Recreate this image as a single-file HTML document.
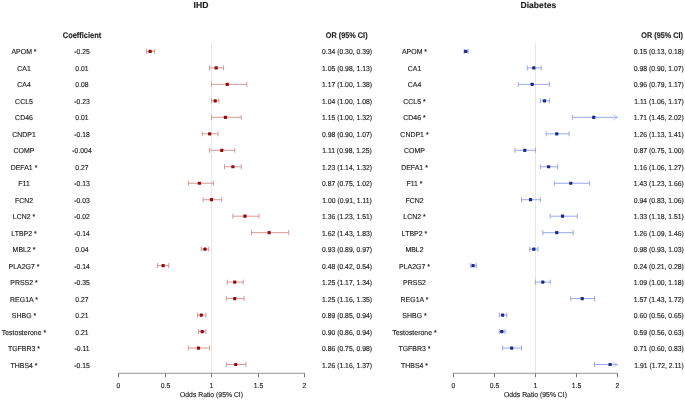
<!DOCTYPE html><html><head><meta charset="utf-8"><style>html,body{margin:0;padding:0;background:#fff;width:685px;height:400px;overflow:hidden}svg{display:block;filter:grayscale(0)}text{font-family:"Liberation Sans",sans-serif;fill:#222222;stroke:#222222;stroke-width:0.14px}</style></head><body>
<svg width="685" height="400" viewBox="0 0 685 400">
<rect width="685" height="400" fill="#fff"/>
<text transform="translate(201.00,8.40) scale(1.0,1) skewX(0.3)" font-size="8.6" font-weight="bold" text-anchor="middle">IHD</text>
<text transform="translate(538.40,8.40) scale(1.0,1) skewX(0.3)" font-size="8.6" font-weight="bold" text-anchor="middle">Diabetes</text>
<text transform="translate(82.00,38.10) scale(0.91,1) skewX(0.3)" font-size="8.2" font-weight="bold" text-anchor="middle">Coefficient</text>
<text transform="translate(346.70,38.10) scale(0.89,1) skewX(0.3)" font-size="8.2" font-weight="bold" text-anchor="middle">OR (95% CI)</text>
<text transform="translate(683.00,38.10) scale(0.89,1) skewX(0.3)" font-size="8.2" font-weight="bold" text-anchor="end">OR (95% CI)</text>
<line x1="211.50" y1="42.8" x2="211.50" y2="373.4" stroke="#e6e6e6" stroke-width="1"/>
<line x1="118.00" y1="373.4" x2="305.00" y2="373.4" stroke="#ababab" stroke-width="1.4"/>
<line x1="118.50" y1="373.4" x2="118.50" y2="377.30" stroke="#777777" stroke-width="1"/>
<text transform="translate(118.50,388.30) scale(0.95,1) skewX(0.3)" font-size="7.2" text-anchor="middle">0</text>
<line x1="165.50" y1="373.4" x2="165.50" y2="377.30" stroke="#777777" stroke-width="1"/>
<text transform="translate(165.50,388.30) scale(0.95,1) skewX(0.3)" font-size="7.2" text-anchor="middle">0.5</text>
<line x1="211.50" y1="373.4" x2="211.50" y2="377.30" stroke="#777777" stroke-width="1"/>
<text transform="translate(211.50,388.30) scale(0.95,1) skewX(0.3)" font-size="7.2" text-anchor="middle">1</text>
<line x1="258.50" y1="373.4" x2="258.50" y2="377.30" stroke="#777777" stroke-width="1"/>
<text transform="translate(258.50,388.30) scale(0.95,1) skewX(0.3)" font-size="7.2" text-anchor="middle">1.5</text>
<line x1="304.50" y1="373.4" x2="304.50" y2="377.30" stroke="#777777" stroke-width="1"/>
<text transform="translate(304.50,388.30) scale(0.95,1) skewX(0.3)" font-size="7.2" text-anchor="middle">2</text>
<text transform="translate(211.50,396.80) scale(0.95,1) skewX(0.3)" font-size="7.2" text-anchor="middle">Odds Ratio (95% CI)</text>
<line x1="535.45" y1="42.8" x2="535.45" y2="373.4" stroke="#e6e6e6" stroke-width="1"/>
<line x1="453.00" y1="373.4" x2="618.00" y2="373.4" stroke="#ababab" stroke-width="1.4"/>
<line x1="453.50" y1="373.4" x2="453.50" y2="377.30" stroke="#777777" stroke-width="1"/>
<text transform="translate(453.50,388.30) scale(0.95,1) skewX(0.3)" font-size="7.2" text-anchor="middle">0</text>
<line x1="494.50" y1="373.4" x2="494.50" y2="377.30" stroke="#777777" stroke-width="1"/>
<text transform="translate(494.50,388.30) scale(0.95,1) skewX(0.3)" font-size="7.2" text-anchor="middle">0.5</text>
<line x1="535.50" y1="373.4" x2="535.50" y2="377.30" stroke="#777777" stroke-width="1"/>
<text transform="translate(535.50,388.30) scale(0.95,1) skewX(0.3)" font-size="7.2" text-anchor="middle">1</text>
<line x1="576.50" y1="373.4" x2="576.50" y2="377.30" stroke="#777777" stroke-width="1"/>
<text transform="translate(576.50,388.30) scale(0.95,1) skewX(0.3)" font-size="7.2" text-anchor="middle">1.5</text>
<line x1="617.50" y1="373.4" x2="617.50" y2="377.30" stroke="#777777" stroke-width="1"/>
<text transform="translate(617.50,388.30) scale(0.95,1) skewX(0.3)" font-size="7.2" text-anchor="middle">2</text>
<text transform="translate(535.45,396.80) scale(0.95,1) skewX(0.3)" font-size="7.2" text-anchor="middle">Odds Ratio (95% CI)</text>
<text transform="translate(24.00,54.42) scale(0.969,1) skewX(0.3)" font-size="7.2" text-anchor="middle">APOM *</text>
<text transform="translate(82.00,54.42) scale(0.95,1) skewX(0.3)" font-size="7.2" text-anchor="middle">-0.25</text>
<text transform="translate(347.00,54.42) scale(0.95,1) skewX(0.3)" font-size="7.2" text-anchor="middle">0.34 (0.30, 0.39)</text>
<text transform="translate(414.50,54.42) scale(0.969,1) skewX(0.3)" font-size="7.2" text-anchor="middle">APOM *</text>
<text transform="translate(683.90,54.42) scale(0.95,1) skewX(0.3)" font-size="7.2" text-anchor="end">0.15 (0.13, 0.18)</text>
<line x1="146.40" y1="51.40" x2="154.77" y2="51.40" stroke="#d69898" stroke-width="1.0"/>
<line x1="146.40" y1="48.90" x2="146.40" y2="53.90" stroke="#d69898" stroke-width="1.0"/>
<line x1="154.77" y1="48.90" x2="154.77" y2="53.90" stroke="#d69898" stroke-width="1.0"/>
<rect x="148.52" y="49.80" width="3.2" height="3.2" rx="0.6" fill="#960a0a"/>
<line x1="464.07" y1="51.40" x2="468.17" y2="51.40" stroke="#98a9ee" stroke-width="1.0"/>
<line x1="464.07" y1="48.90" x2="464.07" y2="53.90" stroke="#98a9ee" stroke-width="1.0"/>
<line x1="468.17" y1="48.90" x2="468.17" y2="53.90" stroke="#98a9ee" stroke-width="1.0"/>
<rect x="464.11" y="49.80" width="3.2" height="3.2" rx="0.6" fill="#1c2a8a"/>
<text transform="translate(24.00,70.90) scale(0.969,1) skewX(0.3)" font-size="7.2" text-anchor="middle">CA1</text>
<text transform="translate(82.00,70.90) scale(0.95,1) skewX(0.3)" font-size="7.2" text-anchor="middle">0.01</text>
<text transform="translate(347.00,70.90) scale(0.95,1) skewX(0.3)" font-size="7.2" text-anchor="middle">1.05 (0.98, 1.13)</text>
<text transform="translate(414.50,70.90) scale(0.969,1) skewX(0.3)" font-size="7.2" text-anchor="middle">CA1</text>
<text transform="translate(683.90,70.90) scale(0.95,1) skewX(0.3)" font-size="7.2" text-anchor="end">0.98 (0.90, 1.07)</text>
<line x1="209.64" y1="67.88" x2="223.59" y2="67.88" stroke="#d69898" stroke-width="1.0"/>
<line x1="209.64" y1="65.38" x2="209.64" y2="70.38" stroke="#d69898" stroke-width="1.0"/>
<line x1="223.59" y1="65.38" x2="223.59" y2="70.38" stroke="#d69898" stroke-width="1.0"/>
<rect x="214.55" y="66.28" width="3.2" height="3.2" rx="0.6" fill="#960a0a"/>
<line x1="527.25" y1="67.88" x2="541.19" y2="67.88" stroke="#98a9ee" stroke-width="1.0"/>
<line x1="527.25" y1="65.38" x2="527.25" y2="70.38" stroke="#98a9ee" stroke-width="1.0"/>
<line x1="541.19" y1="65.38" x2="541.19" y2="70.38" stroke="#98a9ee" stroke-width="1.0"/>
<rect x="532.21" y="66.28" width="3.2" height="3.2" rx="0.6" fill="#1c2a8a"/>
<text transform="translate(24.00,87.38) scale(0.969,1) skewX(0.3)" font-size="7.2" text-anchor="middle">CA4</text>
<text transform="translate(82.00,87.38) scale(0.95,1) skewX(0.3)" font-size="7.2" text-anchor="middle">0.08</text>
<text transform="translate(347.00,87.38) scale(0.95,1) skewX(0.3)" font-size="7.2" text-anchor="middle">1.17 (1.00, 1.38)</text>
<text transform="translate(414.50,87.38) scale(0.969,1) skewX(0.3)" font-size="7.2" text-anchor="middle">CA4</text>
<text transform="translate(683.90,87.38) scale(0.95,1) skewX(0.3)" font-size="7.2" text-anchor="end">0.96 (0.79, 1.17)</text>
<line x1="211.50" y1="84.36" x2="246.84" y2="84.36" stroke="#d69898" stroke-width="1.0"/>
<line x1="211.50" y1="81.86" x2="211.50" y2="86.86" stroke="#d69898" stroke-width="1.0"/>
<line x1="246.84" y1="81.86" x2="246.84" y2="86.86" stroke="#d69898" stroke-width="1.0"/>
<rect x="225.71" y="82.76" width="3.2" height="3.2" rx="0.6" fill="#960a0a"/>
<line x1="518.22" y1="84.36" x2="549.40" y2="84.36" stroke="#98a9ee" stroke-width="1.0"/>
<line x1="518.22" y1="81.86" x2="518.22" y2="86.86" stroke="#98a9ee" stroke-width="1.0"/>
<line x1="549.40" y1="81.86" x2="549.40" y2="86.86" stroke="#98a9ee" stroke-width="1.0"/>
<rect x="530.57" y="82.76" width="3.2" height="3.2" rx="0.6" fill="#1c2a8a"/>
<text transform="translate(24.00,103.86) scale(0.969,1) skewX(0.3)" font-size="7.2" text-anchor="middle">CCL5</text>
<text transform="translate(82.00,103.86) scale(0.95,1) skewX(0.3)" font-size="7.2" text-anchor="middle">-0.23</text>
<text transform="translate(347.00,103.86) scale(0.95,1) skewX(0.3)" font-size="7.2" text-anchor="middle">1.04 (1.00, 1.08)</text>
<text transform="translate(414.50,103.86) scale(0.969,1) skewX(0.3)" font-size="7.2" text-anchor="middle">CCL5 *</text>
<text transform="translate(683.90,103.86) scale(0.95,1) skewX(0.3)" font-size="7.2" text-anchor="end">1.11 (1.06, 1.17)</text>
<line x1="211.50" y1="100.84" x2="218.94" y2="100.84" stroke="#d69898" stroke-width="1.0"/>
<line x1="211.50" y1="98.34" x2="211.50" y2="103.34" stroke="#d69898" stroke-width="1.0"/>
<line x1="218.94" y1="98.34" x2="218.94" y2="103.34" stroke="#d69898" stroke-width="1.0"/>
<rect x="213.62" y="99.24" width="3.2" height="3.2" rx="0.6" fill="#960a0a"/>
<line x1="540.37" y1="100.84" x2="549.40" y2="100.84" stroke="#98a9ee" stroke-width="1.0"/>
<line x1="540.37" y1="98.34" x2="540.37" y2="103.34" stroke="#98a9ee" stroke-width="1.0"/>
<line x1="549.40" y1="98.34" x2="549.40" y2="103.34" stroke="#98a9ee" stroke-width="1.0"/>
<rect x="542.88" y="99.24" width="3.2" height="3.2" rx="0.6" fill="#1c2a8a"/>
<text transform="translate(24.00,120.34) scale(0.969,1) skewX(0.3)" font-size="7.2" text-anchor="middle">CD46</text>
<text transform="translate(82.00,120.34) scale(0.95,1) skewX(0.3)" font-size="7.2" text-anchor="middle">0.01</text>
<text transform="translate(347.00,120.34) scale(0.95,1) skewX(0.3)" font-size="7.2" text-anchor="middle">1.15 (1.00, 1.32)</text>
<text transform="translate(414.50,120.34) scale(0.969,1) skewX(0.3)" font-size="7.2" text-anchor="middle">CD46 *</text>
<text transform="translate(683.90,120.34) scale(0.95,1) skewX(0.3)" font-size="7.2" text-anchor="end">1.71 (1.45, 2.02)</text>
<line x1="211.50" y1="117.32" x2="241.26" y2="117.32" stroke="#d69898" stroke-width="1.0"/>
<line x1="211.50" y1="114.82" x2="211.50" y2="119.82" stroke="#d69898" stroke-width="1.0"/>
<line x1="241.26" y1="114.82" x2="241.26" y2="119.82" stroke="#d69898" stroke-width="1.0"/>
<rect x="223.85" y="115.72" width="3.2" height="3.2" rx="0.6" fill="#960a0a"/>
<line x1="572.37" y1="117.32" x2="617.50" y2="117.32" stroke="#98a9ee" stroke-width="1.0"/>
<line x1="572.37" y1="114.82" x2="572.37" y2="119.82" stroke="#98a9ee" stroke-width="1.0"/>
<polyline points="612.50,114.42 617.50,117.32 612.50,120.22" fill="none" stroke="#98a9ee" stroke-width="0.6"/>
<rect x="592.11" y="115.72" width="3.2" height="3.2" rx="0.6" fill="#1c2a8a"/>
<text transform="translate(24.00,136.82) scale(0.969,1) skewX(0.3)" font-size="7.2" text-anchor="middle">CNDP1</text>
<text transform="translate(82.00,136.82) scale(0.95,1) skewX(0.3)" font-size="7.2" text-anchor="middle">-0.18</text>
<text transform="translate(347.00,136.82) scale(0.95,1) skewX(0.3)" font-size="7.2" text-anchor="middle">0.98 (0.90, 1.07)</text>
<text transform="translate(414.50,136.82) scale(0.969,1) skewX(0.3)" font-size="7.2" text-anchor="middle">CNDP1 *</text>
<text transform="translate(683.90,136.82) scale(0.95,1) skewX(0.3)" font-size="7.2" text-anchor="end">1.26 (1.13, 1.41)</text>
<line x1="202.20" y1="133.80" x2="218.01" y2="133.80" stroke="#d69898" stroke-width="1.0"/>
<line x1="202.20" y1="131.30" x2="202.20" y2="136.30" stroke="#d69898" stroke-width="1.0"/>
<line x1="218.01" y1="131.30" x2="218.01" y2="136.30" stroke="#d69898" stroke-width="1.0"/>
<rect x="208.04" y="132.20" width="3.2" height="3.2" rx="0.6" fill="#960a0a"/>
<line x1="546.12" y1="133.80" x2="569.09" y2="133.80" stroke="#98a9ee" stroke-width="1.0"/>
<line x1="546.12" y1="131.30" x2="546.12" y2="136.30" stroke="#98a9ee" stroke-width="1.0"/>
<line x1="569.09" y1="131.30" x2="569.09" y2="136.30" stroke="#98a9ee" stroke-width="1.0"/>
<rect x="555.18" y="132.20" width="3.2" height="3.2" rx="0.6" fill="#1c2a8a"/>
<text transform="translate(24.00,153.30) scale(0.969,1) skewX(0.3)" font-size="7.2" text-anchor="middle">COMP</text>
<text transform="translate(82.00,153.30) scale(0.95,1) skewX(0.3)" font-size="7.2" text-anchor="middle">-0.004</text>
<text transform="translate(347.00,153.30) scale(0.95,1) skewX(0.3)" font-size="7.2" text-anchor="middle">1.11 (0.98, 1.25)</text>
<text transform="translate(414.50,153.30) scale(0.969,1) skewX(0.3)" font-size="7.2" text-anchor="middle">COMP</text>
<text transform="translate(683.90,153.30) scale(0.95,1) skewX(0.3)" font-size="7.2" text-anchor="end">0.87 (0.75, 1.00)</text>
<line x1="209.64" y1="150.28" x2="234.75" y2="150.28" stroke="#d69898" stroke-width="1.0"/>
<line x1="209.64" y1="147.78" x2="209.64" y2="152.78" stroke="#d69898" stroke-width="1.0"/>
<line x1="234.75" y1="147.78" x2="234.75" y2="152.78" stroke="#d69898" stroke-width="1.0"/>
<rect x="220.13" y="148.68" width="3.2" height="3.2" rx="0.6" fill="#960a0a"/>
<line x1="514.94" y1="150.28" x2="535.45" y2="150.28" stroke="#98a9ee" stroke-width="1.0"/>
<line x1="514.94" y1="147.78" x2="514.94" y2="152.78" stroke="#98a9ee" stroke-width="1.0"/>
<line x1="535.45" y1="147.78" x2="535.45" y2="152.78" stroke="#98a9ee" stroke-width="1.0"/>
<rect x="523.18" y="148.68" width="3.2" height="3.2" rx="0.6" fill="#1c2a8a"/>
<text transform="translate(24.00,169.78) scale(0.969,1) skewX(0.3)" font-size="7.2" text-anchor="middle">DEFA1 *</text>
<text transform="translate(82.00,169.78) scale(0.95,1) skewX(0.3)" font-size="7.2" text-anchor="middle">0.27</text>
<text transform="translate(347.00,169.78) scale(0.95,1) skewX(0.3)" font-size="7.2" text-anchor="middle">1.23 (1.14, 1.32)</text>
<text transform="translate(414.50,169.78) scale(0.969,1) skewX(0.3)" font-size="7.2" text-anchor="middle">DEFA1 *</text>
<text transform="translate(683.90,169.78) scale(0.95,1) skewX(0.3)" font-size="7.2" text-anchor="end">1.16 (1.06, 1.27)</text>
<line x1="224.52" y1="166.76" x2="241.26" y2="166.76" stroke="#d69898" stroke-width="1.0"/>
<line x1="224.52" y1="164.26" x2="224.52" y2="169.26" stroke="#d69898" stroke-width="1.0"/>
<line x1="241.26" y1="164.26" x2="241.26" y2="169.26" stroke="#d69898" stroke-width="1.0"/>
<rect x="231.29" y="165.16" width="3.2" height="3.2" rx="0.6" fill="#960a0a"/>
<line x1="540.37" y1="166.76" x2="557.60" y2="166.76" stroke="#98a9ee" stroke-width="1.0"/>
<line x1="540.37" y1="164.26" x2="540.37" y2="169.26" stroke="#98a9ee" stroke-width="1.0"/>
<line x1="557.60" y1="164.26" x2="557.60" y2="169.26" stroke="#98a9ee" stroke-width="1.0"/>
<rect x="546.98" y="165.16" width="3.2" height="3.2" rx="0.6" fill="#1c2a8a"/>
<text transform="translate(24.00,186.26) scale(0.969,1) skewX(0.3)" font-size="7.2" text-anchor="middle">F11</text>
<text transform="translate(82.00,186.26) scale(0.95,1) skewX(0.3)" font-size="7.2" text-anchor="middle">-0.13</text>
<text transform="translate(347.00,186.26) scale(0.95,1) skewX(0.3)" font-size="7.2" text-anchor="middle">0.87 (0.75, 1.02)</text>
<text transform="translate(414.50,186.26) scale(0.969,1) skewX(0.3)" font-size="7.2" text-anchor="middle">F11 *</text>
<text transform="translate(683.90,186.26) scale(0.95,1) skewX(0.3)" font-size="7.2" text-anchor="end">1.43 (1.23, 1.66)</text>
<line x1="188.25" y1="183.24" x2="213.36" y2="183.24" stroke="#d69898" stroke-width="1.0"/>
<line x1="188.25" y1="180.74" x2="188.25" y2="185.74" stroke="#d69898" stroke-width="1.0"/>
<line x1="213.36" y1="180.74" x2="213.36" y2="185.74" stroke="#d69898" stroke-width="1.0"/>
<rect x="197.81" y="181.64" width="3.2" height="3.2" rx="0.6" fill="#960a0a"/>
<line x1="554.32" y1="183.24" x2="589.60" y2="183.24" stroke="#98a9ee" stroke-width="1.0"/>
<line x1="554.32" y1="180.74" x2="554.32" y2="185.74" stroke="#98a9ee" stroke-width="1.0"/>
<line x1="589.60" y1="180.74" x2="589.60" y2="185.74" stroke="#98a9ee" stroke-width="1.0"/>
<rect x="569.13" y="181.64" width="3.2" height="3.2" rx="0.6" fill="#1c2a8a"/>
<text transform="translate(24.00,202.74) scale(0.969,1) skewX(0.3)" font-size="7.2" text-anchor="middle">FCN2</text>
<text transform="translate(82.00,202.74) scale(0.95,1) skewX(0.3)" font-size="7.2" text-anchor="middle">-0.03</text>
<text transform="translate(347.00,202.74) scale(0.95,1) skewX(0.3)" font-size="7.2" text-anchor="middle">1.00 (0.91, 1.11)</text>
<text transform="translate(414.50,202.74) scale(0.969,1) skewX(0.3)" font-size="7.2" text-anchor="middle">FCN2</text>
<text transform="translate(683.90,202.74) scale(0.95,1) skewX(0.3)" font-size="7.2" text-anchor="end">0.94 (0.83, 1.06)</text>
<line x1="203.13" y1="199.72" x2="221.73" y2="199.72" stroke="#d69898" stroke-width="1.0"/>
<line x1="203.13" y1="197.22" x2="203.13" y2="202.22" stroke="#d69898" stroke-width="1.0"/>
<line x1="221.73" y1="197.22" x2="221.73" y2="202.22" stroke="#d69898" stroke-width="1.0"/>
<rect x="209.90" y="198.12" width="3.2" height="3.2" rx="0.6" fill="#960a0a"/>
<line x1="521.50" y1="199.72" x2="540.37" y2="199.72" stroke="#98a9ee" stroke-width="1.0"/>
<line x1="521.50" y1="197.22" x2="521.50" y2="202.22" stroke="#98a9ee" stroke-width="1.0"/>
<line x1="540.37" y1="197.22" x2="540.37" y2="202.22" stroke="#98a9ee" stroke-width="1.0"/>
<rect x="528.93" y="198.12" width="3.2" height="3.2" rx="0.6" fill="#1c2a8a"/>
<text transform="translate(24.00,219.22) scale(0.969,1) skewX(0.3)" font-size="7.2" text-anchor="middle">LCN2 *</text>
<text transform="translate(82.00,219.22) scale(0.95,1) skewX(0.3)" font-size="7.2" text-anchor="middle">-0.02</text>
<text transform="translate(347.00,219.22) scale(0.95,1) skewX(0.3)" font-size="7.2" text-anchor="middle">1.36 (1.23, 1.51)</text>
<text transform="translate(414.50,219.22) scale(0.969,1) skewX(0.3)" font-size="7.2" text-anchor="middle">LCN2 *</text>
<text transform="translate(683.90,219.22) scale(0.95,1) skewX(0.3)" font-size="7.2" text-anchor="end">1.33 (1.18, 1.51)</text>
<line x1="232.89" y1="216.20" x2="258.93" y2="216.20" stroke="#d69898" stroke-width="1.0"/>
<line x1="232.89" y1="213.70" x2="232.89" y2="218.70" stroke="#d69898" stroke-width="1.0"/>
<line x1="258.93" y1="213.70" x2="258.93" y2="218.70" stroke="#d69898" stroke-width="1.0"/>
<rect x="243.38" y="214.60" width="3.2" height="3.2" rx="0.6" fill="#960a0a"/>
<line x1="550.22" y1="216.20" x2="577.30" y2="216.20" stroke="#98a9ee" stroke-width="1.0"/>
<line x1="550.22" y1="213.70" x2="550.22" y2="218.70" stroke="#98a9ee" stroke-width="1.0"/>
<line x1="577.30" y1="213.70" x2="577.30" y2="218.70" stroke="#98a9ee" stroke-width="1.0"/>
<rect x="560.93" y="214.60" width="3.2" height="3.2" rx="0.6" fill="#1c2a8a"/>
<text transform="translate(24.00,235.70) scale(0.969,1) skewX(0.3)" font-size="7.2" text-anchor="middle">LTBP2 *</text>
<text transform="translate(82.00,235.70) scale(0.95,1) skewX(0.3)" font-size="7.2" text-anchor="middle">-0.14</text>
<text transform="translate(347.00,235.70) scale(0.95,1) skewX(0.3)" font-size="7.2" text-anchor="middle">1.62 (1.43, 1.83)</text>
<text transform="translate(414.50,235.70) scale(0.969,1) skewX(0.3)" font-size="7.2" text-anchor="middle">LTBP2 *</text>
<text transform="translate(683.90,235.70) scale(0.95,1) skewX(0.3)" font-size="7.2" text-anchor="end">1.26 (1.09, 1.46)</text>
<line x1="251.49" y1="232.68" x2="288.69" y2="232.68" stroke="#d69898" stroke-width="1.0"/>
<line x1="251.49" y1="230.18" x2="251.49" y2="235.18" stroke="#d69898" stroke-width="1.0"/>
<line x1="288.69" y1="230.18" x2="288.69" y2="235.18" stroke="#d69898" stroke-width="1.0"/>
<rect x="267.56" y="231.08" width="3.2" height="3.2" rx="0.6" fill="#960a0a"/>
<line x1="542.83" y1="232.68" x2="573.19" y2="232.68" stroke="#98a9ee" stroke-width="1.0"/>
<line x1="542.83" y1="230.18" x2="542.83" y2="235.18" stroke="#98a9ee" stroke-width="1.0"/>
<line x1="573.19" y1="230.18" x2="573.19" y2="235.18" stroke="#98a9ee" stroke-width="1.0"/>
<rect x="555.18" y="231.08" width="3.2" height="3.2" rx="0.6" fill="#1c2a8a"/>
<text transform="translate(24.00,252.18) scale(0.969,1) skewX(0.3)" font-size="7.2" text-anchor="middle">MBL2 *</text>
<text transform="translate(82.00,252.18) scale(0.95,1) skewX(0.3)" font-size="7.2" text-anchor="middle">0.04</text>
<text transform="translate(347.00,252.18) scale(0.95,1) skewX(0.3)" font-size="7.2" text-anchor="middle">0.93 (0.89, 0.97)</text>
<text transform="translate(414.50,252.18) scale(0.969,1) skewX(0.3)" font-size="7.2" text-anchor="middle">MBL2</text>
<text transform="translate(683.90,252.18) scale(0.95,1) skewX(0.3)" font-size="7.2" text-anchor="end">0.98 (0.93, 1.03)</text>
<line x1="201.27" y1="249.16" x2="208.71" y2="249.16" stroke="#d69898" stroke-width="1.0"/>
<line x1="201.27" y1="246.66" x2="201.27" y2="251.66" stroke="#d69898" stroke-width="1.0"/>
<line x1="208.71" y1="246.66" x2="208.71" y2="251.66" stroke="#d69898" stroke-width="1.0"/>
<rect x="203.39" y="247.56" width="3.2" height="3.2" rx="0.6" fill="#960a0a"/>
<line x1="529.71" y1="249.16" x2="537.91" y2="249.16" stroke="#98a9ee" stroke-width="1.0"/>
<line x1="529.71" y1="246.66" x2="529.71" y2="251.66" stroke="#98a9ee" stroke-width="1.0"/>
<line x1="537.91" y1="246.66" x2="537.91" y2="251.66" stroke="#98a9ee" stroke-width="1.0"/>
<rect x="532.21" y="247.56" width="3.2" height="3.2" rx="0.6" fill="#1c2a8a"/>
<text transform="translate(24.00,268.66) scale(0.969,1) skewX(0.3)" font-size="7.2" text-anchor="middle">PLA2G7 *</text>
<text transform="translate(82.00,268.66) scale(0.95,1) skewX(0.3)" font-size="7.2" text-anchor="middle">-0.14</text>
<text transform="translate(347.00,268.66) scale(0.95,1) skewX(0.3)" font-size="7.2" text-anchor="middle">0.48 (0.42, 0.54)</text>
<text transform="translate(414.50,268.66) scale(0.969,1) skewX(0.3)" font-size="7.2" text-anchor="middle">PLA2G7 *</text>
<text transform="translate(683.90,268.66) scale(0.95,1) skewX(0.3)" font-size="7.2" text-anchor="end">0.24 (0.21, 0.28)</text>
<line x1="157.56" y1="265.64" x2="168.72" y2="265.64" stroke="#d69898" stroke-width="1.0"/>
<line x1="157.56" y1="263.14" x2="157.56" y2="268.14" stroke="#d69898" stroke-width="1.0"/>
<line x1="168.72" y1="263.14" x2="168.72" y2="268.14" stroke="#d69898" stroke-width="1.0"/>
<rect x="161.54" y="264.04" width="3.2" height="3.2" rx="0.6" fill="#960a0a"/>
<line x1="470.63" y1="265.64" x2="476.37" y2="265.64" stroke="#98a9ee" stroke-width="1.0"/>
<line x1="470.63" y1="263.14" x2="470.63" y2="268.14" stroke="#98a9ee" stroke-width="1.0"/>
<line x1="476.37" y1="263.14" x2="476.37" y2="268.14" stroke="#98a9ee" stroke-width="1.0"/>
<rect x="471.49" y="264.04" width="3.2" height="3.2" rx="0.6" fill="#1c2a8a"/>
<text transform="translate(24.00,285.14) scale(0.969,1) skewX(0.3)" font-size="7.2" text-anchor="middle">PRSS2 *</text>
<text transform="translate(82.00,285.14) scale(0.95,1) skewX(0.3)" font-size="7.2" text-anchor="middle">-0.35</text>
<text transform="translate(347.00,285.14) scale(0.95,1) skewX(0.3)" font-size="7.2" text-anchor="middle">1.25 (1.17, 1.34)</text>
<text transform="translate(414.50,285.14) scale(0.969,1) skewX(0.3)" font-size="7.2" text-anchor="middle">PRSS2</text>
<text transform="translate(683.90,285.14) scale(0.95,1) skewX(0.3)" font-size="7.2" text-anchor="end">1.09 (1.00, 1.18)</text>
<line x1="227.31" y1="282.12" x2="243.12" y2="282.12" stroke="#d69898" stroke-width="1.0"/>
<line x1="227.31" y1="279.62" x2="227.31" y2="284.62" stroke="#d69898" stroke-width="1.0"/>
<line x1="243.12" y1="279.62" x2="243.12" y2="284.62" stroke="#d69898" stroke-width="1.0"/>
<rect x="233.15" y="280.52" width="3.2" height="3.2" rx="0.6" fill="#960a0a"/>
<line x1="535.45" y1="282.12" x2="550.22" y2="282.12" stroke="#98a9ee" stroke-width="1.0"/>
<line x1="535.45" y1="279.62" x2="535.45" y2="284.62" stroke="#98a9ee" stroke-width="1.0"/>
<line x1="550.22" y1="279.62" x2="550.22" y2="284.62" stroke="#98a9ee" stroke-width="1.0"/>
<rect x="541.23" y="280.52" width="3.2" height="3.2" rx="0.6" fill="#1c2a8a"/>
<text transform="translate(24.00,301.62) scale(0.969,1) skewX(0.3)" font-size="7.2" text-anchor="middle">REG1A *</text>
<text transform="translate(82.00,301.62) scale(0.95,1) skewX(0.3)" font-size="7.2" text-anchor="middle">0.27</text>
<text transform="translate(347.00,301.62) scale(0.95,1) skewX(0.3)" font-size="7.2" text-anchor="middle">1.25 (1.16, 1.35)</text>
<text transform="translate(414.50,301.62) scale(0.969,1) skewX(0.3)" font-size="7.2" text-anchor="middle">REG1A *</text>
<text transform="translate(683.90,301.62) scale(0.95,1) skewX(0.3)" font-size="7.2" text-anchor="end">1.57 (1.43, 1.72)</text>
<line x1="226.38" y1="298.60" x2="244.05" y2="298.60" stroke="#d69898" stroke-width="1.0"/>
<line x1="226.38" y1="296.10" x2="226.38" y2="301.10" stroke="#d69898" stroke-width="1.0"/>
<line x1="244.05" y1="296.10" x2="244.05" y2="301.10" stroke="#d69898" stroke-width="1.0"/>
<rect x="233.15" y="297.00" width="3.2" height="3.2" rx="0.6" fill="#960a0a"/>
<line x1="570.73" y1="298.60" x2="594.53" y2="298.60" stroke="#98a9ee" stroke-width="1.0"/>
<line x1="570.73" y1="296.10" x2="570.73" y2="301.10" stroke="#98a9ee" stroke-width="1.0"/>
<line x1="594.53" y1="296.10" x2="594.53" y2="301.10" stroke="#98a9ee" stroke-width="1.0"/>
<rect x="580.62" y="297.00" width="3.2" height="3.2" rx="0.6" fill="#1c2a8a"/>
<text transform="translate(24.00,318.10) scale(0.969,1) skewX(0.3)" font-size="7.2" text-anchor="middle">SHBG *</text>
<text transform="translate(82.00,318.10) scale(0.95,1) skewX(0.3)" font-size="7.2" text-anchor="middle">0.21</text>
<text transform="translate(347.00,318.10) scale(0.95,1) skewX(0.3)" font-size="7.2" text-anchor="middle">0.89 (0.85, 0.94)</text>
<text transform="translate(414.50,318.10) scale(0.969,1) skewX(0.3)" font-size="7.2" text-anchor="middle">SHBG *</text>
<text transform="translate(683.90,318.10) scale(0.95,1) skewX(0.3)" font-size="7.2" text-anchor="end">0.60 (0.56, 0.65)</text>
<line x1="197.55" y1="315.08" x2="205.92" y2="315.08" stroke="#d69898" stroke-width="1.0"/>
<line x1="197.55" y1="312.58" x2="197.55" y2="317.58" stroke="#d69898" stroke-width="1.0"/>
<line x1="205.92" y1="312.58" x2="205.92" y2="317.58" stroke="#d69898" stroke-width="1.0"/>
<rect x="199.67" y="313.48" width="3.2" height="3.2" rx="0.6" fill="#960a0a"/>
<line x1="499.35" y1="315.08" x2="506.73" y2="315.08" stroke="#98a9ee" stroke-width="1.0"/>
<line x1="499.35" y1="312.58" x2="499.35" y2="317.58" stroke="#98a9ee" stroke-width="1.0"/>
<line x1="506.73" y1="312.58" x2="506.73" y2="317.58" stroke="#98a9ee" stroke-width="1.0"/>
<rect x="501.03" y="313.48" width="3.2" height="3.2" rx="0.6" fill="#1c2a8a"/>
<text transform="translate(24.00,334.58) scale(0.969,1) skewX(0.3)" font-size="7.2" text-anchor="middle">Testosterone *</text>
<text transform="translate(82.00,334.58) scale(0.95,1) skewX(0.3)" font-size="7.2" text-anchor="middle">0.21</text>
<text transform="translate(347.00,334.58) scale(0.95,1) skewX(0.3)" font-size="7.2" text-anchor="middle">0.90 (0.86, 0.94)</text>
<text transform="translate(414.50,334.58) scale(0.969,1) skewX(0.3)" font-size="7.2" text-anchor="middle">Testosterone *</text>
<text transform="translate(683.90,334.58) scale(0.95,1) skewX(0.3)" font-size="7.2" text-anchor="end">0.59 (0.56, 0.63)</text>
<line x1="198.48" y1="331.56" x2="205.92" y2="331.56" stroke="#d69898" stroke-width="1.0"/>
<line x1="198.48" y1="329.06" x2="198.48" y2="334.06" stroke="#d69898" stroke-width="1.0"/>
<line x1="205.92" y1="329.06" x2="205.92" y2="334.06" stroke="#d69898" stroke-width="1.0"/>
<rect x="200.60" y="329.96" width="3.2" height="3.2" rx="0.6" fill="#960a0a"/>
<line x1="499.35" y1="331.56" x2="505.09" y2="331.56" stroke="#98a9ee" stroke-width="1.0"/>
<line x1="499.35" y1="329.06" x2="499.35" y2="334.06" stroke="#98a9ee" stroke-width="1.0"/>
<line x1="505.09" y1="329.06" x2="505.09" y2="334.06" stroke="#98a9ee" stroke-width="1.0"/>
<rect x="500.21" y="329.96" width="3.2" height="3.2" rx="0.6" fill="#1c2a8a"/>
<text transform="translate(24.00,351.06) scale(0.969,1) skewX(0.3)" font-size="7.2" text-anchor="middle">TGFBR3 *</text>
<text transform="translate(82.00,351.06) scale(0.95,1) skewX(0.3)" font-size="7.2" text-anchor="middle">-0.11</text>
<text transform="translate(347.00,351.06) scale(0.95,1) skewX(0.3)" font-size="7.2" text-anchor="middle">0.86 (0.75, 0.98)</text>
<text transform="translate(414.50,351.06) scale(0.969,1) skewX(0.3)" font-size="7.2" text-anchor="middle">TGFBR3 *</text>
<text transform="translate(683.90,351.06) scale(0.95,1) skewX(0.3)" font-size="7.2" text-anchor="end">0.71 (0.60, 0.83)</text>
<line x1="188.25" y1="348.04" x2="209.64" y2="348.04" stroke="#d69898" stroke-width="1.0"/>
<line x1="188.25" y1="345.54" x2="188.25" y2="350.54" stroke="#d69898" stroke-width="1.0"/>
<line x1="209.64" y1="345.54" x2="209.64" y2="350.54" stroke="#d69898" stroke-width="1.0"/>
<rect x="196.88" y="346.44" width="3.2" height="3.2" rx="0.6" fill="#960a0a"/>
<line x1="502.63" y1="348.04" x2="521.50" y2="348.04" stroke="#98a9ee" stroke-width="1.0"/>
<line x1="502.63" y1="345.54" x2="502.63" y2="350.54" stroke="#98a9ee" stroke-width="1.0"/>
<line x1="521.50" y1="345.54" x2="521.50" y2="350.54" stroke="#98a9ee" stroke-width="1.0"/>
<rect x="510.06" y="346.44" width="3.2" height="3.2" rx="0.6" fill="#1c2a8a"/>
<text transform="translate(24.00,367.54) scale(0.969,1) skewX(0.3)" font-size="7.2" text-anchor="middle">THBS4 *</text>
<text transform="translate(82.00,367.54) scale(0.95,1) skewX(0.3)" font-size="7.2" text-anchor="middle">-0.15</text>
<text transform="translate(347.00,367.54) scale(0.95,1) skewX(0.3)" font-size="7.2" text-anchor="middle">1.26 (1.16, 1.37)</text>
<text transform="translate(414.50,367.54) scale(0.969,1) skewX(0.3)" font-size="7.2" text-anchor="middle">THBS4 *</text>
<text transform="translate(683.90,367.54) scale(0.95,1) skewX(0.3)" font-size="7.2" text-anchor="end">1.91 (1.72, 2.11)</text>
<line x1="226.38" y1="364.52" x2="245.91" y2="364.52" stroke="#d69898" stroke-width="1.0"/>
<line x1="226.38" y1="362.02" x2="226.38" y2="367.02" stroke="#d69898" stroke-width="1.0"/>
<line x1="245.91" y1="362.02" x2="245.91" y2="367.02" stroke="#d69898" stroke-width="1.0"/>
<rect x="234.08" y="362.92" width="3.2" height="3.2" rx="0.6" fill="#960a0a"/>
<line x1="594.53" y1="364.52" x2="617.50" y2="364.52" stroke="#98a9ee" stroke-width="1.0"/>
<line x1="594.53" y1="362.02" x2="594.53" y2="367.02" stroke="#98a9ee" stroke-width="1.0"/>
<polyline points="612.50,361.62 617.50,364.52 612.50,367.42" fill="none" stroke="#98a9ee" stroke-width="0.6"/>
<rect x="608.52" y="362.92" width="3.2" height="3.2" rx="0.6" fill="#1c2a8a"/>
</svg></body></html>
